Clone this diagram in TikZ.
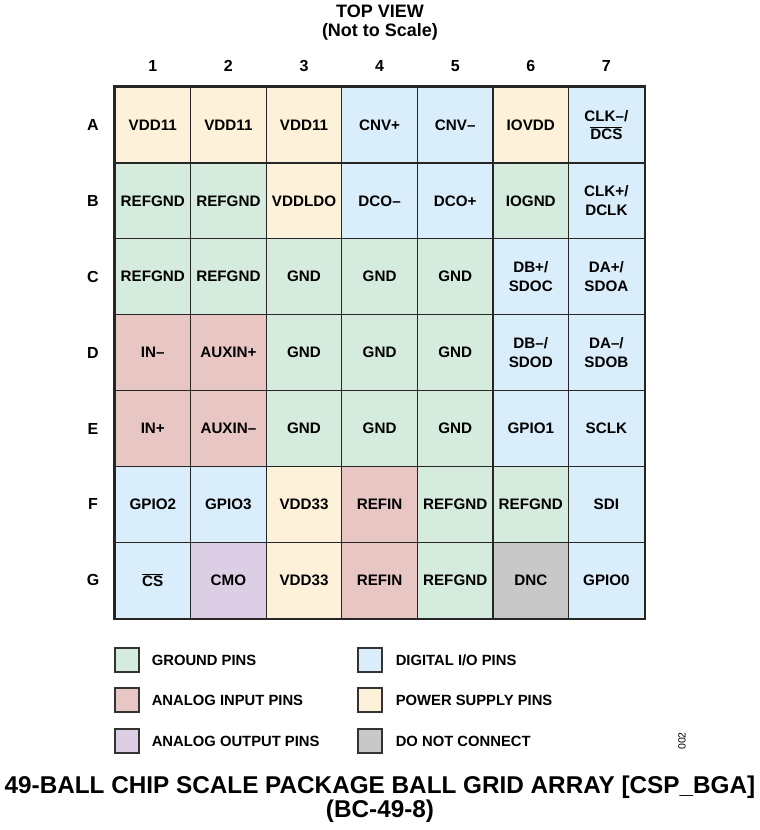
\documentclass[tikz,border=0pt]{standalone}
\usepackage{fontspec}
\setmainfont{Liberation Sans}
\usetikzlibrary{positioning}

\definecolor{gnd}{RGB}{212,235,221}
\definecolor{pwr}{RGB}{254,241,217}
\definecolor{dig}{RGB}{217,237,250}
\definecolor{ain}{RGB}{232,198,196}
\definecolor{aout}{RGB}{220,207,229}
\definecolor{dnc}{RGB}{200,200,200}

\newcommand{\ovl}[1]{$\overline{\mbox{#1}}$}

\begin{document}
\begin{tikzpicture}[x=1pt,y=-1pt,
    pin/.style={draw=black!85, line width=1.3pt, minimum width=75.6pt, minimum height=75.9pt,
      inner sep=0pt, align=center, font=\fontsize{15.2}{18.5}\selectfont\bfseries},
    hdr/.style={font=\fontsize{16}{19}\selectfont\bfseries},
    keybox/.style={draw=black!80, line width=1.2pt, minimum size=24pt, inner sep=0pt},
    keytxt/.style={inner sep=0pt, font=\fontsize{14.8}{17}\selectfont\bfseries}]
    \useasboundingbox (0,0) rectangle (760,830);

    % Heading
    \node[align=center, font=\fontsize{18}{19}\selectfont\bfseries] (view) at (380,23) {TOP VIEW\\(Not to Scale)};

    % Column numbers and row letters
    \foreach \c in {1,...,7}
        \node[hdr] (col\c) at ({77.2+75.6*\c},66) {\c};
    \foreach \l [count=\r] in {A,...,G}
        \node[hdr] (row\l) at (93,{49+75.9*\r}) {\l};

    % Balls, one row at a time
    \foreach \kind/\txt [count=\c] in {pwr/VDD11, pwr/VDD11, pwr/VDD11, dig/CNV+, dig/CNV–, pwr/IOVDD, dig/{CLK–/\\\ovl{DCS}}}
        \node[pin, fill=\kind] (A\c) at ({77.2+75.6*\c},124.9) {\txt};
    \foreach \kind/\txt [count=\c] in {gnd/REFGND, gnd/REFGND, pwr/VDDLDO, dig/DCO–, dig/DCO+, gnd/IOGND, dig/{CLK+/\\DCLK}}
        \node[pin, fill=\kind] (B\c) at ({77.2+75.6*\c},200.8) {\txt};
    \foreach \kind/\txt [count=\c] in {gnd/REFGND, gnd/REFGND, gnd/GND, gnd/GND, gnd/GND, dig/{DB+/\\SDOC}, dig/{DA+/\\SDOA}}
        \node[pin, fill=\kind] (C\c) at ({77.2+75.6*\c},276.7) {\txt};
    \foreach \kind/\txt [count=\c] in {ain/IN–, ain/AUXIN+, gnd/GND, gnd/GND, gnd/GND, dig/{DB–/\\SDOD}, dig/{DA–/\\SDOB}}
        \node[pin, fill=\kind] (D\c) at ({77.2+75.6*\c},352.6) {\txt};
    \foreach \kind/\txt [count=\c] in {ain/IN+, ain/AUXIN–, gnd/GND, gnd/GND, gnd/GND, dig/GPIO1, dig/SCLK}
        \node[pin, fill=\kind] (E\c) at ({77.2+75.6*\c},428.5) {\txt};
    \foreach \kind/\txt [count=\c] in {dig/GPIO2, dig/GPIO3, pwr/VDD33, ain/REFIN, gnd/REFGND, gnd/REFGND, dig/SDI}
        \node[pin, fill=\kind] (F\c) at ({77.2+75.6*\c},504.4) {\txt};
    \foreach \kind/\txt [count=\c] in {dig/\ovl{CS}, aout/CMO, pwr/VDD33, ain/REFIN, gnd/REFGND, dnc/DNC, dig/GPIO0}
        \node[pin, fill=\kind] (G\c) at ({77.2+75.6*\c},580.3) {\txt};

    % Outer frame
    \draw[line width=2pt, black!85] (A1.north west) rectangle (G7.south east);

    % Legend
    \node[keybox, fill=gnd] (kgnd) at (127,660) {};
    \node[keytxt, right=12pt of kgnd] (tgnd) {GROUND PINS};
    \node[keybox, fill=ain] (kain) at (127,700) {};
    \node[keytxt, right=12pt of kain] (tain) {ANALOG INPUT PINS};
    \node[keybox, fill=aout] (kaout) at (127,741) {};
    \node[keytxt, right=12pt of kaout] (taout) {ANALOG OUTPUT PINS};
    \node[keybox, fill=dig] (kdig) at (370,660) {};
    \node[keytxt, right=13pt of kdig] (tdig) {DIGITAL I/O PINS};
    \node[keybox, fill=pwr] (kpwr) at (370,700) {};
    \node[keytxt, right=13pt of kpwr] (tpwr) {POWER SUPPLY PINS};
    \node[keybox, fill=dnc] (kdnc) at (370,741) {};
    \node[keytxt, right=13pt of kdnc] (tdnc) {DO NOT CONNECT};

    \node[rotate=90, font=\fontsize{10.5}{12}\selectfont] (figno) at (682,741) {002};

    % Caption
    \node[align=center, font=\fontsize{24.3}{22}\selectfont\bfseries] (caption) at (380,799)
        {49-BALL CHIP SCALE PACKAGE BALL GRID ARRAY [CSP\_BGA]\\(BC-49-8)};
\end{tikzpicture}
\end{document}
